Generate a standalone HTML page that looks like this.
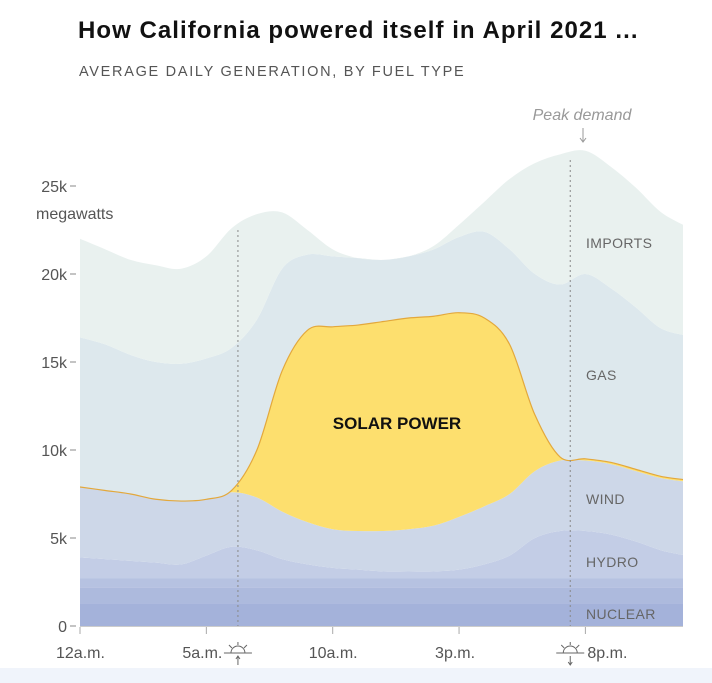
<!DOCTYPE html>
<html><head><meta charset="utf-8">
<style>
body{margin:0;background:#fff;width:712px;height:683px;overflow:hidden;font-family:"Liberation Sans",sans-serif;}
#title{position:absolute;left:78px;top:17px;font-size:24px;font-weight:bold;color:#111;letter-spacing:1.05px;}
#sub{position:absolute;left:79px;top:64px;font-size:14.5px;color:#555;letter-spacing:1.7px;}
#band{position:absolute;left:0;top:668px;width:712px;height:15px;background:#f0f4fb;}
svg{position:absolute;left:0;top:0;}
</style></head><body>
<div id="title">How California powered itself in April 2021 ...</div>
<div id="sub">AVERAGE DAILY GENERATION, BY FUEL TYPE</div>
<div id="band"></div>
<svg id="chart" width="712" height="683"></svg>
<script>
const hours=[0,1,2,3,4,5,6,7,8,9,10,11,12,13,14,15,16,17,18,19,20,21,22,23,24];
const nuclear=[1.3,1.3,1.3,1.3,1.3,1.3,1.3,1.3,1.3,1.3,1.3,1.3,1.3,1.3,1.3,1.3,1.3,1.3,1.3,1.3,1.3,1.3,1.3,1.3,1.3];
const otherA=[0.9,0.9,0.9,0.9,0.9,0.9,0.9,0.9,0.9,0.9,0.9,0.9,0.9,0.9,0.9,0.9,0.9,0.9,0.9,0.9,0.9,0.9,0.9,0.9,0.9];
const otherB=[0.5,0.5,0.5,0.5,0.5,0.5,0.5,0.5,0.5,0.5,0.5,0.5,0.5,0.5,0.5,0.5,0.5,0.5,0.5,0.5,0.5,0.5,0.5,0.5,0.5];
const hydro=[1.2,1.1,1.0,0.9,0.8,1.3,1.8,1.6,1.1,0.8,0.6,0.5,0.4,0.4,0.4,0.5,0.8,1.3,2.3,2.7,2.7,2.5,2.1,1.6,1.3];
const wind=[4.0,3.9,3.8,3.6,3.6,3.2,3.1,3.0,2.7,2.4,2.2,2.2,2.3,2.4,2.6,3.0,3.3,3.5,3.8,4.0,4.0,4.0,4.0,4.1,4.2];
const solar=[0,0,0,0,0,0,0.1,2.7,8.0,10.9,11.5,11.7,11.9,12.0,11.9,11.6,10.7,8.5,3.2,0.2,0.1,0.1,0.1,0.1,0.1];
const gas=[8.5,8.3,7.9,7.8,7.8,8.0,8.1,7.4,5.8,4.3,4.0,3.8,3.5,3.5,3.8,4.3,4.9,5.4,8.0,9.8,10.5,9.9,9.2,8.4,8.2];
const imports=[5.6,5.4,5.4,5.5,5.4,5.8,6.8,6.0,3.2,1.4,0.4,0.0,0.0,0.0,0.2,0.7,1.7,4.0,6.3,7.4,7.0,6.9,6.8,6.6,6.2];
const yTicks=[0,5,10,15,20,25];
const yTickLabels=["0","5k","10k","15k","20k","25k"];
const xTicks=[0,5,10,15,20];
const xTickLabels=["12a.m.","5a.m.","10a.m.","3p.m.","8p.m."];
const layerNames=["nuclear","other-a","other-b","hydro","wind","solar","gas","imports"];
const layers=[nuclear,otherA,otherB,hydro,wind,solar,gas,imports];
const colors=["#a4b2da","#adbadd","#b6c2e1","#c3cde6","#cdd7e8","#fddf6e","#dde8ed","#e9f1ef"];
const sunrise=6.25, sunset=19.4;

const NS="http://www.w3.org/2000/svg";
const svg=document.getElementById('chart');
const x=h=>80+h*25.27;
const y=v=>626-v*17.6;
function el(t,a,p){const e=document.createElementNS(NS,t);for(const k in a)e.setAttribute(k,a[k]);(p||svg).appendChild(e);return e;}
function smooth(pts){
  let d='';
  for(let i=0;i<pts.length-1;i++){
    const p0=pts[Math.max(0,i-1)],p1=pts[i],p2=pts[i+1],p3=pts[Math.min(pts.length-1,i+2)];
    const c1=[p1[0]+(p2[0]-p0[0])/6,p1[1]+(p2[1]-p0[1])/6];
    const c2=[p2[0]-(p3[0]-p1[0])/6,p2[1]-(p3[1]-p1[1])/6];
    d+=`C${c1[0]},${c1[1]} ${c2[0]},${c2[1]} ${p2[0]},${p2[1]}`;
  }
  return d;
}
const defs=el('defs',{});
const cp=el('clipPath',{id:'clip'},defs);
el('rect',{x:80,y:0,width:603,height:626},cp);
const g=el('g',{'clip-path':'url(#clip)'});
let base=hours.map(()=>0);
const tops=[];
layers.forEach((L,i)=>{
  const top=base.map((b,j)=>Math.max(b,b+L[j]));
  const tp=hours.map((h,j)=>[x(h),y(top[j])]);
  const bp=hours.map((h,j)=>[x(h),y(base[j])]).reverse();
  let d='M'+tp[0].join(',')+smooth(tp)+'L'+bp[0].join(',')+smooth(bp)+'Z';
  const p=el('path',{d:d,fill:colors[i]},g);
  
  
  tops.push(top);base=top;
});
const sp=hours.map((h,j)=>[x(h),y(tops[5][j])]);
const sl=el('path',{d:'M'+sp[0].join(',')+smooth(sp),fill:'none',stroke:'#e3a83c','stroke-width':1.2},g);


[[sunrise,230],[sunset,160]].forEach(([h,top],i)=>{
  const l=el('line',{x1:x(h),x2:x(h),y1:top,y2:626,stroke:'#888','stroke-width':1,'stroke-dasharray':'2,3'});
  
  
});
yTicks.forEach((v,i)=>{
  const t=el('text',{x:67,y:y(v)+6,'text-anchor':'end','font-size':16,fill:'#555'});
  t.textContent=yTickLabels[i];
  
  
  const tk=el('line',{x1:70,x2:76,y1:y(v),y2:y(v),stroke:'#888'});
  
  
});
const yt=el('text',{x:36,y:219,'font-size':16,fill:'#555'});yt.textContent='megawatts';


const ax=el('line',{x1:80,x2:683,y1:626.5,y2:626.5,stroke:'#ccc'});


xTicks.forEach((h,i)=>{
  const tk=el('line',{x1:x(h),x2:x(h),y1:627,y2:634,stroke:'#aaa'});
  
  
  const t=el('text',{x:i==4?x(h)+2:x(h)-24,y:658,'font-size':16,fill:'#555'});
  t.textContent=xTickLabels[i];
  
  
});
function sun(cx,up){
  const s=el('g',{stroke:'#666','stroke-width':1,fill:'none'});
  
  
  el('path',{d:`M${cx-14},653H${cx+14}M${cx-7},653A7,7 0 0 1 ${cx+7},653M${cx},642V645M${cx-9},645L${cx-6},648M${cx+9},645L${cx+6},648`},s);
  el('path',{d:up?`M${cx},665V657M${cx-2},659L${cx},656L${cx+2},659`:`M${cx},656V664M${cx-2},662L${cx},665L${cx+2},662`},s);
}
sun(x(sunrise),true);sun(x(sunset),false);
[['IMPORTS',586,248],['GAS',586,380],['WIND',586,504],['HYDRO',586,567],['NUCLEAR',586,619]].forEach(([s,a,b])=>{
  const t=el('text',{x:a,y:b,'font-size':14,fill:'#666','letter-spacing':0.4});t.textContent=s;
  
  
});
const so=el('text',{x:397,y:429,'text-anchor':'middle','font-size':17,'font-weight':'bold',fill:'#111'});so.textContent='SOLAR POWER';


const pk=el('text',{x:582,y:120,'text-anchor':'middle','font-size':16,'font-style':'italic',fill:'#999'});pk.textContent='Peak demand';


const pa=el('path',{d:'M583,128V141M580,138L583,142L586,138',stroke:'#999',fill:'none'});


</script>
</body></html>
